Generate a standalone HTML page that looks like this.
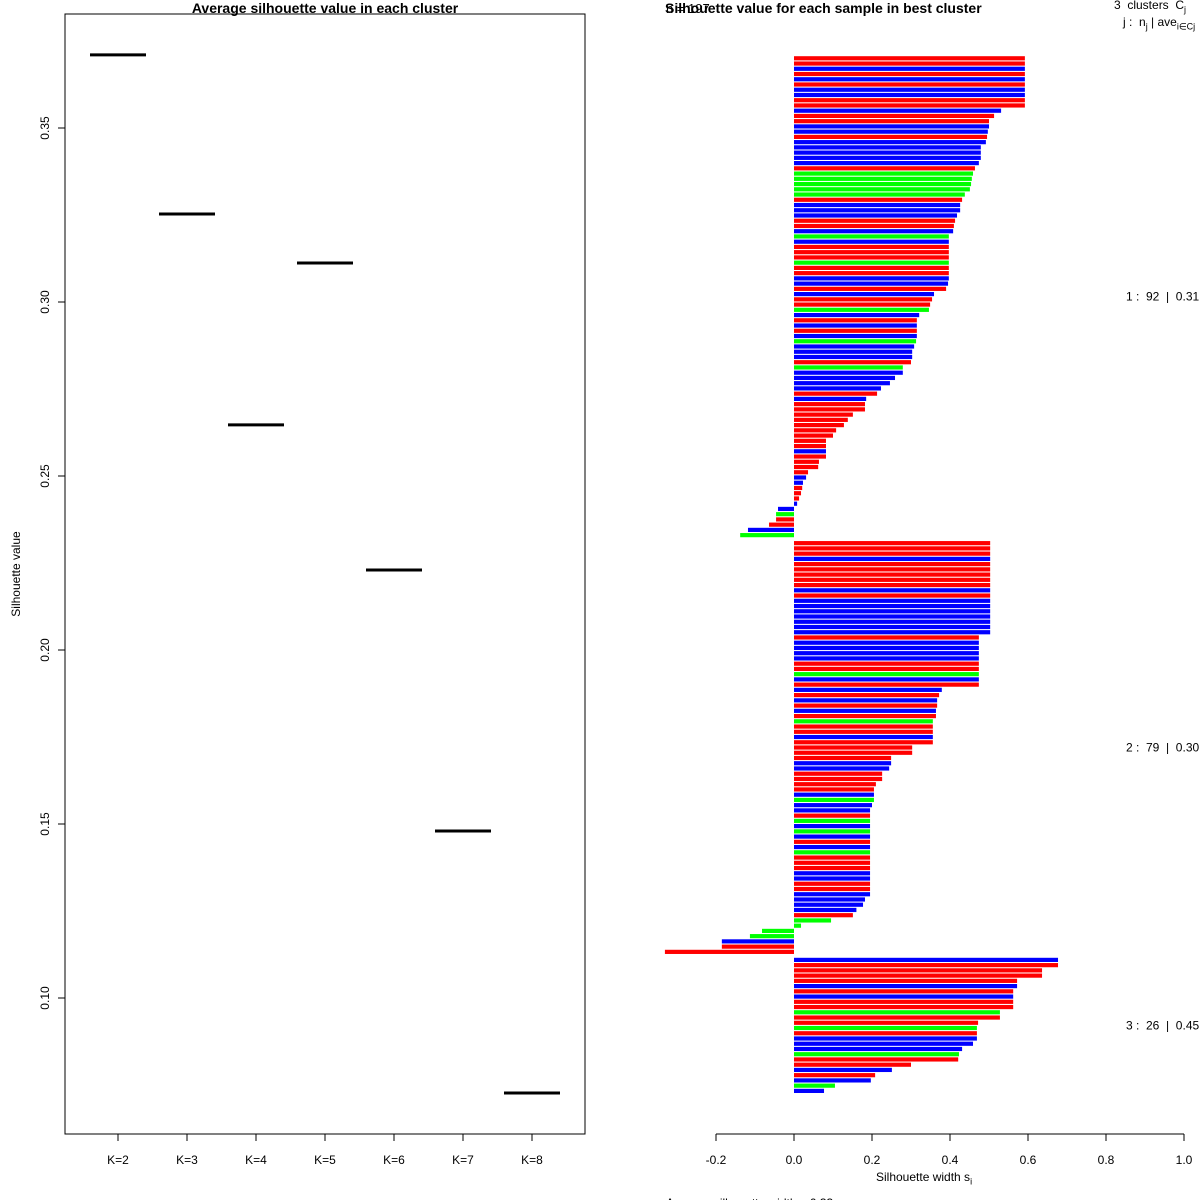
<!DOCTYPE html>
<html><head><meta charset="utf-8"><style>
html,body{margin:0;padding:0;background:#fff;overflow:hidden;}
svg{display:block;font-family:"Liberation Sans",Arial,sans-serif;}
</style></head><body>
<svg id="chart" width="1200" height="1200" viewBox="0 0 1200 1200">
<rect x="0" y="0" width="1200" height="1200" fill="#fff"/>
<g id="left"></g>
<g id="right"></g>
</svg>
<script>
const kLabels = ["K=2","K=3","K=4","K=5","K=6","K=7","K=8"];
const avgSil = [0.371,0.3253,0.2647,0.3112,0.223,0.148,0.0727];
const leftTicks = [0.10,0.15,0.20,0.25,0.30,0.35];

const c1vals = [.592,.592,.592,.592,.592,.592,.592,.592,.592,.592,
.531,.513,.50,.50,.497,.495,.492,.479,.479,.479,.474,.464,.459,.456,.454,.451,.438,.431,.426,.426,.418,.413,.410,.408,
.397,.397,.397,.397,.397,.397,.397,.397,.397,
.395,.390,.359,.354,.349,.346,.321,.315,.315,.315,.315,.313,.308,.303,.303,.300,
.279,.279,.259,.246,.223,.213,.185,.182,.182,
.151,.138,.128,.108,.100,.082,.082,.082,.082,
.064,.062,.036,.031,.023,.021,.018,.013,.008,
-.041,-.046,-.046,-.064,-.118,-.138];
const c1cols = "RRBRBRBBRR"+"BRRBBRBBBBB"+"RGGGGGRBBBRRB"+"GBRRRGRRBBRBRRG"+"BRBRBGBBBRGBBBBRBRR"+"RRRRRRRBRRRR"+"BBRRRBBGRRBG";
const c2vals = [.503,.503,.503,.503,.503,.503,.503,.503,.503,.503,.503,.503,.503,.503,.503,.503,.503,.503,
.474,.474,.474,.474,.474,.474,.474,.474,.474,.474,
.379,.372,.367,.367,.364,.364,.356,.356,.356,.356,.356,
.303,.303,.249,.249,.244,.226,.226,.210,.205,.205,.205,.200,
.195,.195,.195,.195,.195,.195,.195,.195,.195,.195,.195,.195,.195,.195,.195,.195,.195,
.182,.177,.160,.151,.095,.018,-.082,-.113,-.185,-.185,-.331];
const c2cols = "RRRBRRRRRBRBBBBBBB"+"RBBBBRRGBR"+"BRBRBRGRRBR"+"RRRBBRRRRBGB"+"BRGBGBRBGRRRBBRRB"+"BBBRGGGGBRR";
const c3vals = [.677,.677,.636,.636,.572,.572,.562,.562,.562,.562,.528,.528,.472,.469,.469,.469,.459,.431,.423,.421,.300,.251,.208,.197,.105,.077];
const c3cols = "BRRRRBRBRRGRRGRBBBGRRBRBGB";
const clusterSizes = [92,79,26];
const clusterAvg = ["0.31","0.30","0.45"];
const rightTicks = [-0.2,0,0.2,0.4,0.6,0.8,1.0];

const NS="http://www.w3.org/2000/svg";
function mk(parent,tag,attrs,txt){const e=document.createElementNS(NS,tag);for(const k in attrs)e.setAttribute(k,attrs[k]);if(txt!==undefined)e.textContent=txt;parent.appendChild(e);return e;}

const L=document.getElementById('left');
const ly=v=>128+(0.35-v)*3480;
const lx=i=>118+i*69;
let e;
e=mk(L,'rect',{x:65,y:14,width:520,height:1120,fill:'none',stroke:'#000','stroke-width':1});


e=mk(L,'text',{x:325,y:13,'text-anchor':'middle','font-size':14,'font-weight':'bold'},'Average silhouette value in each cluster');


e=mk(L,'text',{x:20,y:574,'text-anchor':'middle','font-size':12,transform:'rotate(-90 20 574)'},'Silhouette value');


leftTicks.forEach(t=>{
  const y=ly(t);
  e=mk(L,'line',{x1:58,x2:65,y1:y,y2:y,stroke:'#000'});
  
  
  e=mk(L,'text',{x:49,y:y,'text-anchor':'middle','font-size':12,transform:`rotate(-90 49 ${y})`},t.toFixed(2));
  
  
});
kLabels.forEach((k,i)=>{
  const x=lx(i);
  e=mk(L,'line',{x1:x,x2:x,y1:1134,y2:1141,stroke:'#000'});
  
  
  e=mk(L,'text',{x:x,y:1164,'text-anchor':'middle','font-size':12},k);
  
  
  e=mk(L,'line',{x1:x-28,x2:x+28,y1:ly(avgSil[i]),y2:ly(avgSil[i]),stroke:'#000','stroke-width':3});
  
  
});

const R=document.getElementById('right');
const rx=v=>794+v*390;
const step=5.24, topY=58.3, gap=1.53;
const colMap={R:'#ff0000',B:'#0000ff',G:'#00ff00'};
const clusters=[[c1vals,c1cols],[c2vals,c2cols],[c3vals,c3cols]];
let slot=0;
clusters.forEach((c,ci)=>{
  const vals=c[0], cols=c[1];
  const startSlot=slot;
  vals.forEach((v,i)=>{
    const yc=topY+slot*step;
    const x0=Math.min(rx(0),rx(v)), w=Math.abs(rx(v)-rx(0));
    e=mk(R,'rect',{x:x0,y:yc-2.1,width:Math.max(w,0.5),height:4.2,fill:colMap[cols[i]]});
    
    
    if(i<vals.length-1) slot+=1;
  });
  const mid=topY+((startSlot+slot)/2)*step;
  e=mk(R,'text',{x:1126,y:mid+4,'font-size':12,style:'white-space:pre'},`${ci+1} :  ${clusterSizes[ci]}  |  ${clusterAvg[ci]}`);
  
  
  slot+=gap;
});
e=mk(R,'line',{x1:rx(-0.2),x2:rx(1.0),y1:1134,y2:1134,stroke:'#000'});


rightTicks.forEach(t=>{
  const x=rx(t);
  e=mk(R,'line',{x1:x,x2:x,y1:1134,y2:1141,stroke:'#000'});
  
  
  e=mk(R,'text',{x:x,y:1164,'text-anchor':'middle','font-size':12},t.toFixed(1));
  
  
});
</script>
<div style="position:absolute;left:0;top:0;width:1200px;height:1200px;overflow:hidden;pointer-events:none;font-family:'Liberation Sans',Arial,sans-serif;">
  <div style="position:absolute;left:666px;top:1px;font-size:13px;color:#000;">n = 197</div>
  <div style="position:absolute;left:665px;top:0px;font-size:14px;font-weight:bold;color:#000;white-space:nowrap;">Silhouette value for each sample in best cluster</div>
  <div style="position:absolute;left:1114px;top:-2px;font-size:12px;white-space:nowrap;">3&nbsp;&nbsp;clusters&nbsp;&nbsp;C<sub style="font-size:9px">j</sub></div>
  <div style="position:absolute;left:1123px;top:15px;font-size:12px;white-space:nowrap;">j :&nbsp; n<sub style="font-size:9px">j</sub> | ave<sub style="font-size:9px">i∈Cj</sub>&nbsp; s<sub style="font-size:9px">i</sub></div>
  <div style="position:absolute;left:876px;top:1170px;font-size:12px;white-space:nowrap;">Silhouette width s<sub style="font-size:9px">i</sub></div>
  <div style="position:absolute;left:666px;top:1196px;font-size:12px;white-space:nowrap;">Average silhouette width :&nbsp; 0.33</div>
</div>
</body></html>
